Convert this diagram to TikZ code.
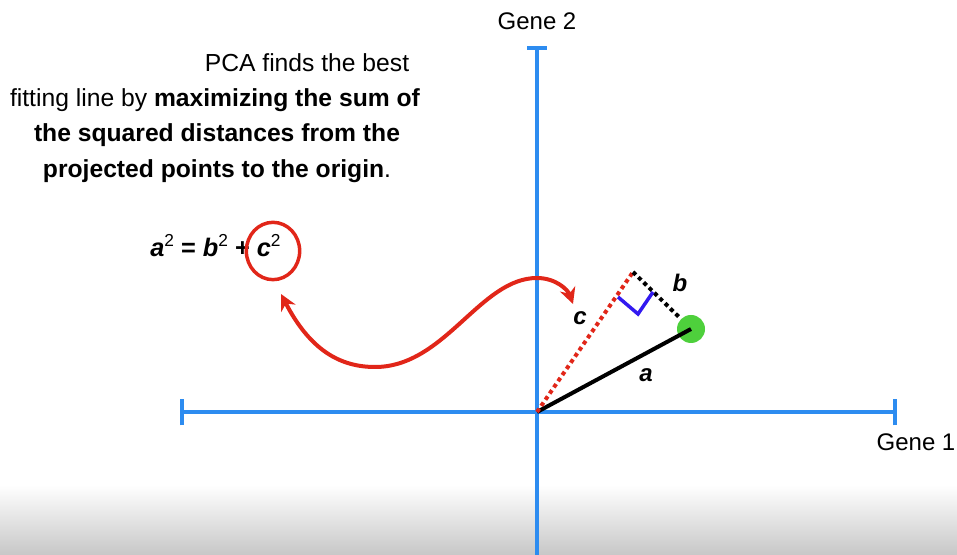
\documentclass[tikz,border=0pt]{standalone}
\usepackage{fontspec}
\setmainfont{Liberation Sans}
\usetikzlibrary{arrows.meta,shapes.geometric}
\definecolor{axisblue}{RGB}{45,140,240}
\definecolor{arrred}{RGB}{225,38,25}
\definecolor{dotgreen}{RGB}{78,208,60}
\definecolor{angblue}{RGB}{50,25,240}
\newcommand{\sqtwo}{\raisebox{0.42em}{\fontsize{13}{13}\selectfont\mdseries 2}}
\begin{document}
\begin{tikzpicture}[x=0.75pt,y=-0.75pt,
  axis/.style={draw=axisblue,line width=3pt},
  tick/.style={draw=axisblue,line width=3pt},
  txt/.style={font=\fontsize{18.5}{22}\selectfont,inner sep=0pt,anchor=base},
  gene/.style={font=\fontsize{18}{21}\selectfont,inner sep=0pt,anchor=base},
  lbl/.style={font=\fontsize{18}{20}\selectfont\bfseries\itshape,inner sep=0pt},
  reddots/.style={draw=arrred,line width=3pt,dash pattern=on 3pt off 2.6pt},
  blackdots/.style={draw=black,line width=3pt,dash pattern=on 3pt off 2.6pt},
  curvy/.style={draw=arrred,line width=3pt,{Stealth[length=12pt,width=12pt]}-{Stealth[length=12pt,width=12pt]}}
]
\useasboundingbox (0,0) rectangle (957,555);
% bottom gradient
\shade[top color=white,bottom color=black!22,draw=none] (0,485) rectangle (957,555);
% axes
\coordinate (O) at (537,412);
\coordinate (ytop) at (537,48);
\coordinate (ybot) at (537,556);
\coordinate (xl) at (182,412);
\coordinate (xr) at (895,412);
\draw[axis] (ybot) -- (ytop);
\draw[axis] (xl) -- (xr);
\draw[tick] ([xshift=-7.5]ytop) -- ([xshift=7.5]ytop);
\draw[tick] ([yshift=-10]xl) -- ([yshift=10]xl);
\draw[tick] ([yshift=-10]xr) -- ([yshift=10]xr);
\node[gene] (g2) at (537,30) {Gene 2};
\node[gene] (g1) at (916,451) {Gene 1};
% text block
\node[txt] (t1) at (307,72) {PCA finds the best};
\node[txt] (t2) at (215,107) {fitting line by \textbf{maximizing the sum of}};
\node[txt] (t3) at (217,142) {\textbf{the squared distances from the}};
\node[txt] (t4) at (217,178) {\textbf{projected points to the origin}.};
% equation
\node[font=\fontsize{19}{22}\selectfont\bfseries,inner sep=0pt,anchor=base west] (eq) at (150,257) {\textit{a}\sqtwo{} = \textit{b}\sqtwo{} + \textit{c}\sqtwo};
\node[draw=arrred,line width=2.6pt,ellipse,minimum width=40pt,minimum height=43pt,inner sep=0pt] (circ) at (273,251) {};
% geometry
\node[circle,fill=dotgreen,minimum size=21pt,inner sep=0pt] (P) at (691,329) {};
\coordinate (Q) at (633,272);
\draw[black,line width=3pt] (O) -- (P.center);
\draw[reddots] (O) -- (Q);
\draw[blackdots] (Q) -- (P.north west);
\coordinate (r1) at (618,297);
\coordinate (r2) at (638,314);
\coordinate (r3) at (653,292);
\draw[angblue,line width=2.6pt,line join=miter] (r1) -- (r2) -- (r3);
\node[lbl] (lb) at (680,283) {b};
\node[lbl] (lc) at (580,318) {c};
\node[lbl] (la) at (646,375) {a};
% curved arrow
\coordinate (s) at (281,294);
\coordinate (e) at (573,304);
\draw[curvy] (s) .. controls (310,350) and (340,367) .. (375,367)
  .. controls (445,367) and (480,278) .. (537,278)
  .. controls (556,278) and (568,290) .. (e);
\end{tikzpicture}
\end{document}
